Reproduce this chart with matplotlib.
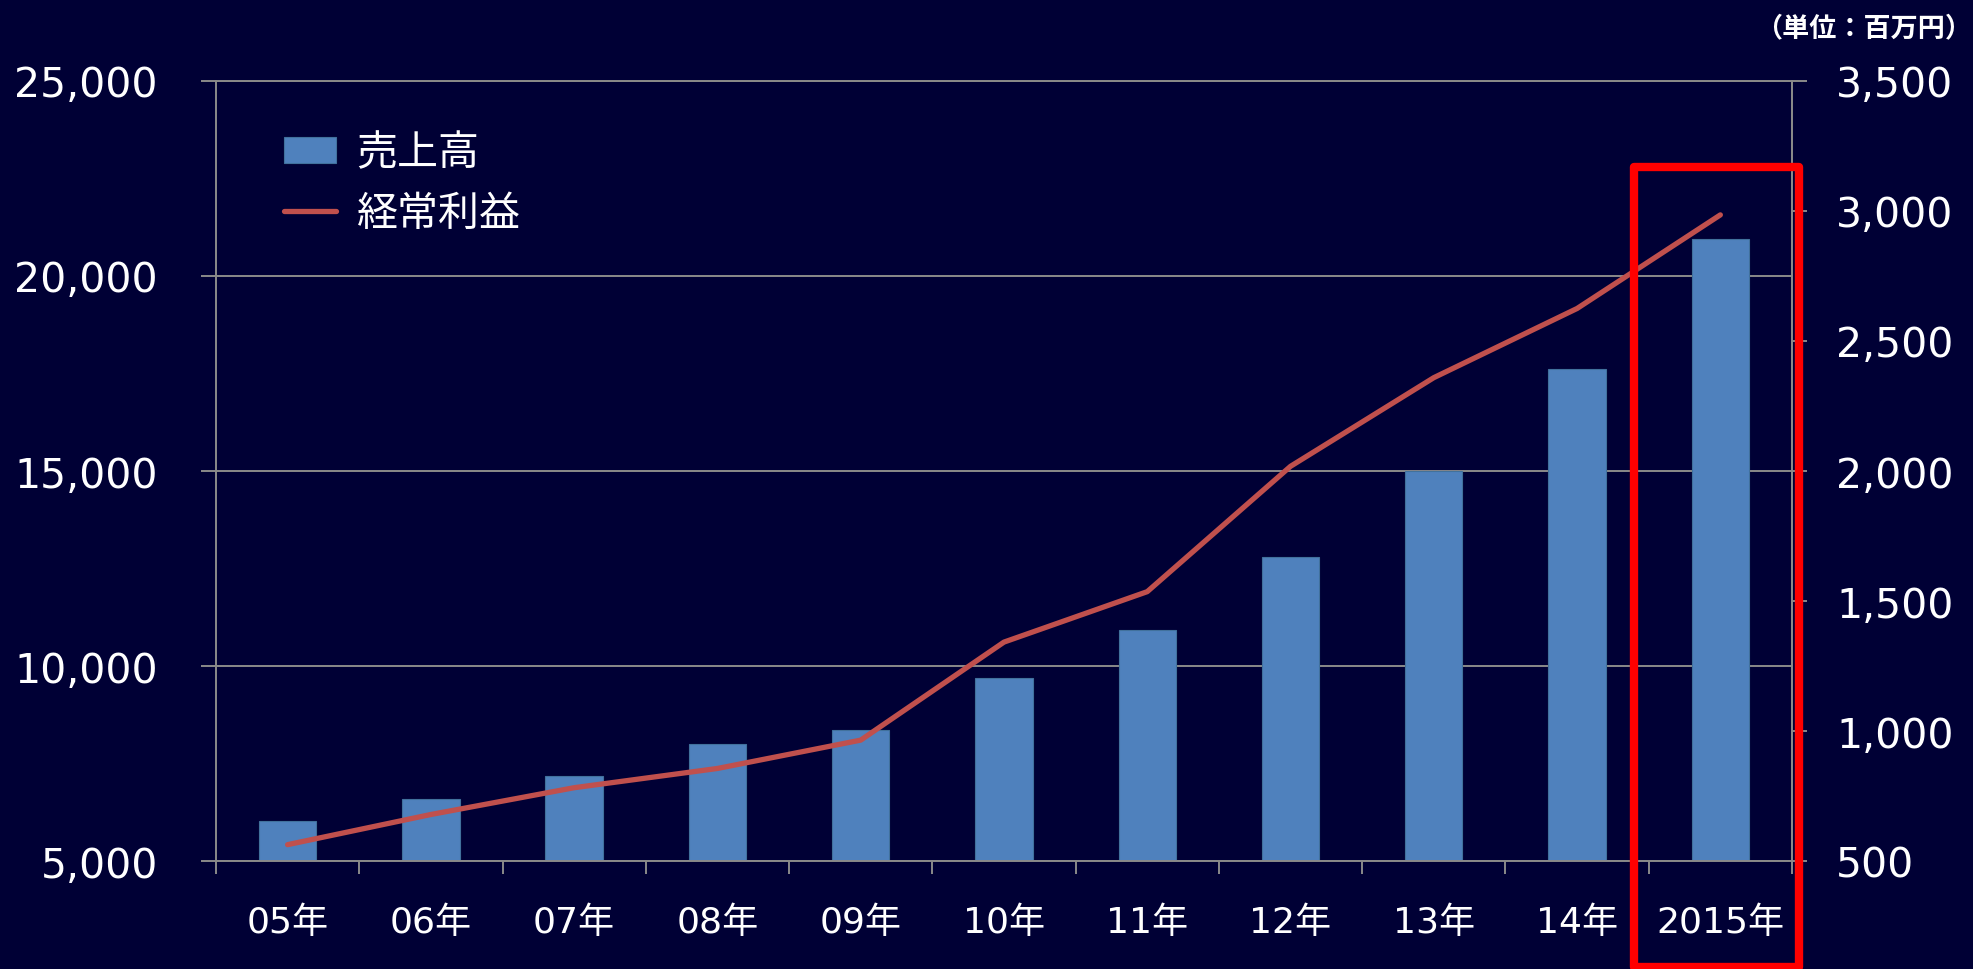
import numpy as np
import matplotlib
matplotlib.use("Agg")
import matplotlib.pyplot as plt
from matplotlib.patches import Rectangle
from matplotlib.ticker import FuncFormatter

YEARS = ["05年", "06年", "07年", "08年", "09年", "10年", "11年", "12年", "13年", "14年", "2015年"]
SALES = [6030, 6600, 7190, 8000, 8360, 9690, 10930, 12800, 14990, 17610, 20950]   # 売上高, left axis
PROFIT = [563, 679, 782, 856, 965, 1342, 1536, 2018, 2359, 2625, 2985]            # 経常利益, right axis

BG = "#000035"
BAR_BLUE = "#4f81bd"
LINE_RED = "#c0504d"
GRID = "#8a8a8a"
HIGHLIGHT = "#ff0000"

plt.rcParams["font.family"] = ["DejaVu Sans", "Noto Sans CJK JP"]


def main():
    fig = plt.figure(figsize=(19.74, 9.70), dpi=100, facecolor=BG)
    ax = fig.add_axes([0.1094, 0.1113, 0.7984, 0.8042])
    ax.set_facecolor(BG)

    x = np.arange(len(YEARS))
    bars = ax.bar(x, SALES, width=0.4, color=BAR_BLUE, edgecolor="#41719c",
                  linewidth=0.8, label="売上高", zorder=2)

    ax.set_xlim(-0.5, len(YEARS) - 0.5)
    ax.set_ylim(5000, 25000)
    ax.set_yticks(np.arange(5000, 25001, 5000))
    ax.yaxis.set_major_formatter(FuncFormatter(lambda v, p: f"{v:,.0f}"))
    ax.grid(axis="y", color=GRID, linewidth=1.4, zorder=0)
    ax.set_axisbelow(True)

    # category boundaries get the tick marks, labels sit in the middle
    ax.set_xticks(np.arange(-0.5, len(YEARS), 1))
    ax.set_xticks(x, labels=YEARS, minor=True)
    ax.tick_params(axis="x", which="major", length=9.5, width=1.4, color=GRID, labelbottom=False)
    ax.tick_params(axis="x", which="minor", length=0, pad=32, labelsize=26, labelcolor="white")
    ax.tick_params(axis="y", length=10.8, width=1.4, color=GRID, labelcolor="white",
                   labelsize=29.5, pad=31)

    for side in ["left", "bottom", "top", "right"]:
        ax.spines[side].set_color(GRID)
        ax.spines[side].set_linewidth(1.4)

    ax2 = ax.twinx()
    line, = ax2.plot(x, PROFIT, color=LINE_RED, linewidth=3.8, solid_capstyle="round",
                     solid_joinstyle="round", label="経常利益", zorder=3)
    ax2.set_ylim(500, 3500)
    ax2.set_yticks(np.arange(500, 3501, 500))
    ax2.yaxis.set_major_formatter(FuncFormatter(lambda v, p: f"{v:,.0f}"))
    ax2.tick_params(axis="y", length=10.8, width=1.4, color=GRID, labelcolor="white",
                    labelsize=29.5, pad=21)
    for side in ["left", "bottom", "top"]:
        ax2.spines[side].set_visible(False)
    ax2.spines["right"].set_color(GRID)
    ax2.spines["right"].set_linewidth(1.4)

    fig.legend([bars, line], ["売上高", "経常利益"], loc="upper left",
               bbox_to_anchor=(284 / 1974, 1 - 134 / 970), frameon=False,
               fontsize=29.5, labelcolor="white", handlelength=1.27, handleheight=0.6,
               handletextpad=0.5, labelspacing=0.5, borderpad=0, borderaxespad=0)

    fig.text(1972 / 1974, 1 - 28 / 970, "（単位：百万円）", ha="right", va="center",
             fontsize=19.5, fontweight="bold", color="white", family=["Noto Sans CJK JP"])

    # red highlight around the latest year, drawn over the profit line
    box = Rectangle((9.4, 2280), 1.15, 20520, transform=ax.transData, fill=False,
                    edgecolor=HIGHLIGHT, linewidth=6, joinstyle="round",
                    clip_on=False, zorder=5)
    ax2.add_artist(box)

    fig.savefig("out.png", dpi=100, facecolor=BG)


if __name__ == "__main__":
    main()
